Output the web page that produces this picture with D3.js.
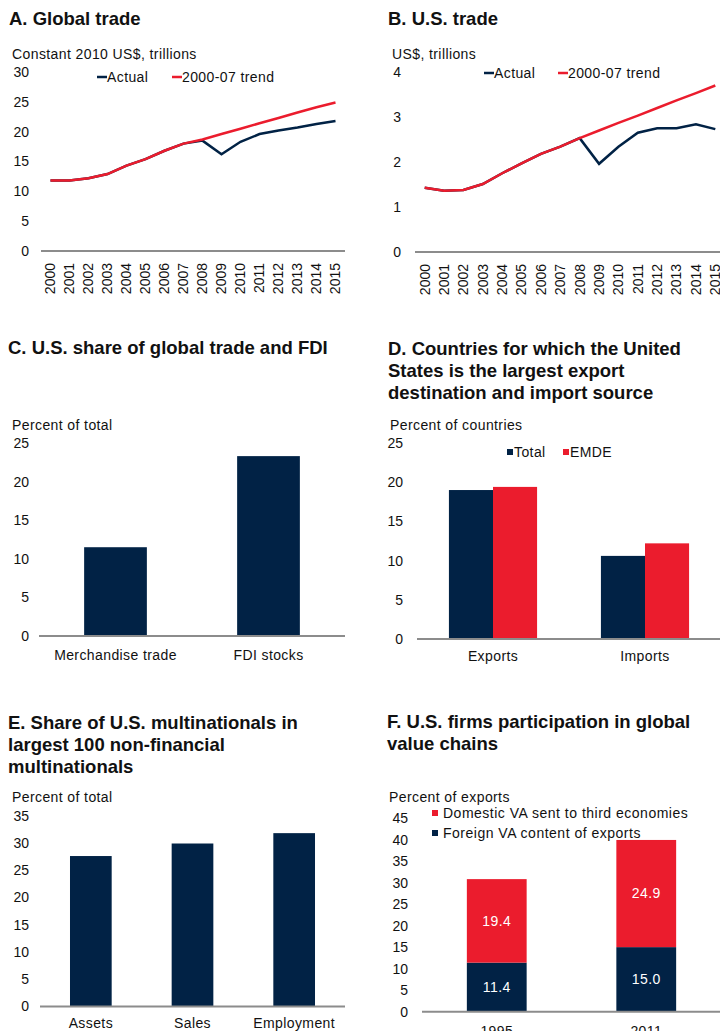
<!DOCTYPE html>
<html>
<head>
<meta charset="utf-8">
<script src="https://cdn.jsdelivr.net/npm/d3@7"></script>
<style>
  body { margin: 0; background: #fff; }
  svg text { font-family: "Liberation Sans", Arial, sans-serif; fill: #111; }
  .title { font-size: 18.5px; font-weight: bold; }
  .lbl { font-size: 14px; letter-spacing: 0.4px; }
  .tick text { font-size: 14px; }
</style>
</head>
<body>
<div class="chart"></div>
<script>
// Data
var years = ["2000", "2001", "2002", "2003", "2004", "2005", "2006", "2007",
  "2008", "2009", "2010", "2011", "2012", "2013", "2014", "2015"];
var globalActual = [11.8, 11.8, 12.2, 12.9, 14.3, 15.4, 16.8, 18.0, 18.5, 16.2, 18.3, 19.6, 20.2, 20.7, 21.3, 21.8];
var globalTrend = [11.8, 11.8, 12.2, 12.9, 14.3, 15.4, 16.8, 18.0, 18.7, 19.6, 20.5, 21.4, 22.3, 23.2, 24.1, 24.9];
var usActual = [1.43, 1.36, 1.38, 1.51, 1.75, 1.97, 2.18, 2.34, 2.53, 1.96, 2.34, 2.65, 2.75, 2.75, 2.84, 2.73];
var usTrend = [1.43, 1.36, 1.38, 1.51, 1.75, 1.97, 2.18, 2.34, 2.53, 2.70, 2.87, 3.03, 3.20, 3.37, 3.53, 3.70];
var lineSeries = ["Actual", "2000-07 trend"];

var shareCats = ["Merchandise trade", "FDI stocks"];
var shareVals = [11.5, 23.3];

var destCats = ["Exports", "Imports"];
var destSeries = ["Total", "EMDE"];
var destTotal = [19.0, 10.6];
var destEmde = [19.4, 12.2];

var mncCats = ["Assets", "Sales", "Employment"];
var mncVals = [27.6, 29.9, 31.8];

var gvcYears = ["1995", "2011"];
var gvcSeries = ["Domestic VA sent to third economies", "Foreign VA content of exports"];
var gvcForeign = [11.4, 15.0];
var gvcDomestic = [19.4, 24.9];

var navy = "#012245";
var red = "#eb1c2d";
var axisGray = "#8c8c8c";

var svg = d3.select(".chart")
  .append("svg")
  .attr("width", 720)
  .attr("height", 1031);

// title lines
function title(x, y, lines) {
  lines.forEach(function (t, i) {
    svg.append("text").attr("class", "title")
      .attr("x", x).attr("y", y + i * 22).text(t);
  });
}

function label(x, y, t) {
  return svg.append("text").attr("class", "lbl").attr("x", x).attr("y", y).text(t);
}

// left axis with no line, labels only
function leftAxis(yScale, x, ticks) {
  var g = svg.append("g")
    .attr("transform", `translate(${x},0)`)
    .call(d3.axisLeft(yScale).tickValues(ticks).tickSize(0).tickPadding(0).tickFormat(d3.format("d")));
  g.select(".domain").remove();
  g.selectAll("text").attr("fill", "#111");
  return g;
}

function baseline(x1, x2, y) {
  svg.append("line")
    .attr("x1", x1).attr("x2", x2)
    .attr("y1", y).attr("y2", y)
    .attr("stroke", axisGray).attr("stroke-width", 2);
}

function bottomAxis(xScale, y, pad) {
  var g = svg.append("g")
    .attr("transform", `translate(0,${y})`)
    .call(d3.axisBottom(xScale).tickSize(0).tickPadding(pad));
  g.select(".domain").remove();
  g.selectAll("text").attr("fill", "#111").style("letter-spacing", "0.4px");
  return g;
}

// ---- line panels (A and B) ----
function linePanel(opts) {
  var x = d3.scaleBand().domain(years).range([opts.x0, opts.x1]);
  var y = d3.scaleLinear().domain([0, opts.max]).range([opts.y0, opts.yTop]);

  leftAxis(y, opts.tickX, d3.range(0, opts.max + opts.step, opts.step));
  baseline(opts.x0, Math.min(opts.x1, 720), opts.y0);

  var xg = bottomAxis(x, opts.y0, 0);
  xg.selectAll("text")
    .attr("transform", "rotate(-90)")
    .attr("text-anchor", "end")
    .attr("x", -12)
    .attr("y", 0)
    .attr("dy", "0.35em")
    .style("letter-spacing", "0px");

  var line = d3.line()
    .x((d, i) => x(years[i]) + x.bandwidth() / 2)
    .y(d => y(d));

  svg.append("path").datum(opts.actual)
    .attr("d", line).attr("fill", "none")
    .attr("stroke", navy).attr("stroke-width", 2.5);
  svg.append("path").datum(opts.trend)
    .attr("d", line).attr("fill", "none")
    .attr("stroke", red).attr("stroke-width", 2.5);

  // legend
  var lx = opts.legendX;
  [navy, red].forEach(function (c, i) {
    var px = lx + i * opts.legendGap;
    svg.append("line")
      .attr("x1", px).attr("x2", px + 10)
      .attr("y1", opts.legendY).attr("y2", opts.legendY)
      .attr("stroke", c).attr("stroke-width", 2.5);
    label(px + 10, opts.legendY + 5, lineSeries[i]);
  });
}

title(9, 25, ["A. Global trade"]);
label(12, 59, "Constant 2010 US$, trillions");
linePanel({
  x0: 41, x1: 345, y0: 251, yTop: 72, max: 30, step: 5, tickX: 29,
  actual: globalActual, trend: globalTrend,
  legendX: 97, legendGap: 75, legendY: 77
});

title(388, 25, ["B. U.S. trade"]);
label(392, 59, "US$, trillions");
linePanel({
  x0: 415, x1: 725, y0: 252, yTop: 72, max: 4, step: 1, tickX: 401,
  actual: usActual, trend: usTrend,
  legendX: 484, legendGap: 74, legendY: 73
});

// ---- C. simple bars ----
title(8, 354, ["C. U.S. share of global trade and FDI"]);
label(12, 430, "Percent of total");
(function () {
  var x = d3.scaleBand().domain(shareCats).range([39, 345]).paddingInner(0.59).paddingOuter(0.295);
  var y = d3.scaleLinear().domain([0, 25]).range([636, 443]);
  leftAxis(y, 29, d3.range(0, 30, 5));
  svg.selectAll(".barC").data(shareVals).enter().append("rect")
    .attr("x", (d, i) => x(shareCats[i]))
    .attr("y", d => y(d))
    .attr("width", x.bandwidth())
    .attr("height", d => y(0) - y(d))
    .attr("fill", navy);
  baseline(39, 345, 636);
  bottomAxis(x, 636, 14);
})();

// ---- D. grouped bars ----
title(388, 355, ["D. Countries for which the United", "States is the largest export", "destination and import source"]);
label(390, 430, "Percent of countries");
(function () {
  var x0 = d3.scaleBand().domain(destCats).range([417, 721]).paddingInner(0.42).paddingOuter(0.21);
  var x1 = d3.scaleBand().domain(destSeries).range([0, x0.bandwidth()]);
  var y = d3.scaleLinear().domain([0, 25]).range([639, 443]);
  leftAxis(y, 403, d3.range(0, 30, 5));
  var cols = [navy, red];
  [destTotal, destEmde].forEach(function (vals, s) {
    svg.selectAll(".barD" + s).data(vals).enter().append("rect")
      .attr("x", (d, i) => x0(destCats[i]) + x1(destSeries[s]))
      .attr("y", d => y(d))
      .attr("width", x1.bandwidth())
      .attr("height", d => y(0) - y(d))
      .attr("fill", cols[s]);
  });
  baseline(417, 720, 639);
  bottomAxis(x0, 639, 12);
  // legend
  [507, 563].forEach(function (lx, s) {
    svg.append("rect").attr("x", lx).attr("y", 449).attr("width", 6).attr("height", 6).attr("fill", cols[s]);
    label(lx + 7, 457, destSeries[s]);
  });
})();

// ---- E. simple bars ----
title(8, 729, ["E. Share of U.S. multinationals in", "largest 100 non-financial", "multinationals"]);
label(12, 802, "Percent of total");
(function () {
  var x = d3.scaleBand().domain(mncCats).range([40, 345]).paddingInner(0.59).paddingOuter(0.295);
  var y = d3.scaleLinear().domain([0, 35]).range([1006.5, 815.7]);
  leftAxis(y, 29, d3.range(0, 40, 5));
  svg.selectAll(".barE").data(mncVals).enter().append("rect")
    .attr("x", (d, i) => x(mncCats[i]))
    .attr("y", d => y(d))
    .attr("width", x.bandwidth())
    .attr("height", d => y(0) - y(d))
    .attr("fill", navy);
  baseline(40, 345, 1006.5);
  bottomAxis(x, 1006.5, 11.5);
})();

// ---- F. stacked bars ----
title(387, 728, ["F. U.S. firms participation in global", "value chains"]);
label(389, 802, "Percent of exports");
(function () {
  var x = d3.scaleBand().domain(gvcYears).range([422, 721]).paddingInner(0.6).paddingOuter(0.3);
  var y = d3.scaleLinear().domain([0, 45]).range([1011.7, 818]);
  leftAxis(y, 408, d3.range(0, 50, 5));

  var rows = gvcYears.map((yr, i) => ({ year: yr, foreign: gvcForeign[i], domestic: gvcDomestic[i] }));
  var stack = d3.stack().keys(["foreign", "domestic"])(rows);
  var cols = { foreign: navy, domestic: red };

  stack.forEach(function (layer) {
    var g = svg.append("g");
    g.selectAll("rect").data(layer).enter().append("rect")
      .attr("x", d => x(d.data.year))
      .attr("y", d => y(d[1]))
      .attr("width", x.bandwidth())
      .attr("height", d => y(d[0]) - y(d[1]))
      .attr("fill", cols[layer.key]);
    g.selectAll("text").data(layer).enter().append("text")
      .attr("x", d => x(d.data.year) + x.bandwidth() / 2)
      .attr("y", d => (y(d[0]) + y(d[1])) / 2)
      .attr("dy", "0.35em")
      .attr("text-anchor", "middle")
      .style("font-size", "14px")
      .style("letter-spacing", "0.4px")
      .style("fill", "#fff")
      .text(d => d3.format(".1f")(d[1] - d[0]));
  });
  baseline(422, 720, 1011.7);
  bottomAxis(x, 1011.7, 14);

  // legend
  [[red, 813], [navy, 833]].forEach(function (p, i) {
    svg.append("rect").attr("x", 432).attr("y", p[1] - 3).attr("width", 6).attr("height", 6).attr("fill", p[0]);
    label(443, p[1] + 5, gvcSeries[i]).style("letter-spacing", "0.5px");
  });
})();
</script>
</body>
</html>
